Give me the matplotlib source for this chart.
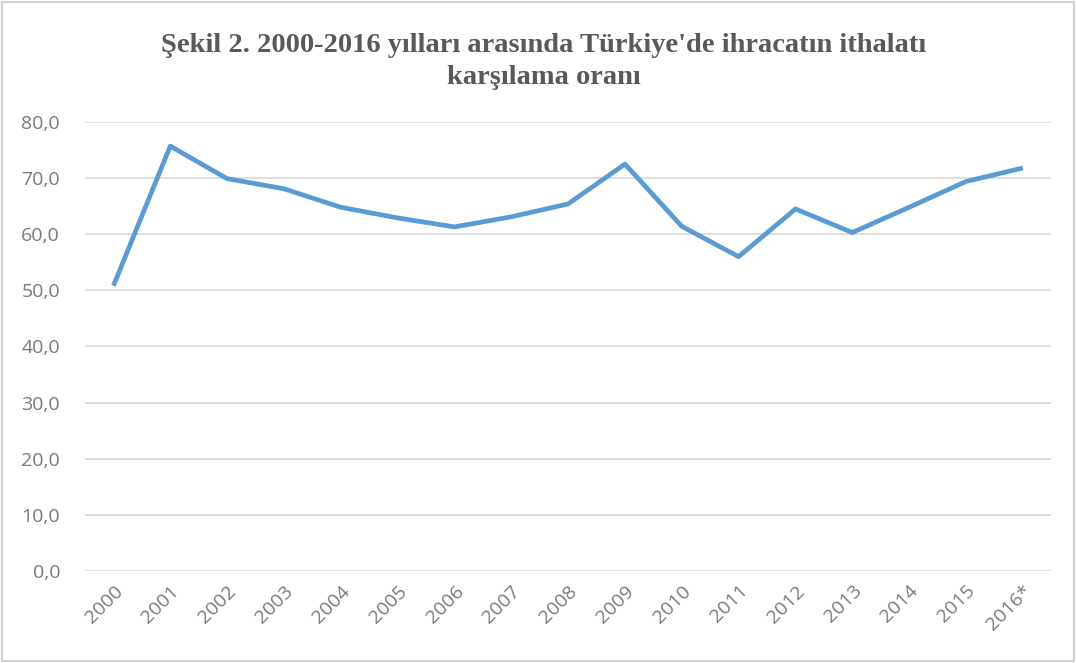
import matplotlib
matplotlib.use("Agg")
import matplotlib.pyplot as plt
import matplotlib.ticker as mtick
from matplotlib.patches import Rectangle

years = ["2000", "2001", "2002", "2003", "2004", "2005", "2006", "2007", "2008",
         "2009", "2010", "2011", "2012", "2013", "2014", "2015", "2016*"]
coverage = [50.8, 75.7, 69.9, 68.1, 64.8, 62.9, 61.3, 63.1, 65.4,
            72.5, 61.4, 56.0, 64.5, 60.3, 64.8, 69.4, 71.8]
y_ticks = [0, 10, 20, 30, 40, 50, 60, 70, 80]

LINE = "#5b9bd5"
GRID = "#d9d9d9"
TEXT = "#7a7a7a"

fig = plt.figure(figsize=(10.76, 6.63), dpi=100)
ax = fig.add_axes([0.079, 0.139, 0.898, 0.677])

x = range(len(years))
ax.plot(x, coverage, color=LINE, linewidth=3.4, solid_capstyle="butt", zorder=3)

ax.set_xlim(-0.5, len(years) - 0.5)
ax.set_ylim(0, 80)
ax.set_yticks(y_ticks)
ax.yaxis.set_major_formatter(mtick.FuncFormatter(lambda v, _: f"{v:.1f}".replace(".", ",")))
ax.set_xticks(list(x))
ax.set_xticklabels(years, rotation=45, ha="right", rotation_mode="anchor")

ax.grid(axis="y", color=GRID, linewidth=1.2)
ax.set_axisbelow(True)
for s in ax.spines.values():
    s.set_visible(False)
ax.tick_params(length=0, colors=TEXT, labelsize=14)
ax.tick_params(axis="y", pad=18)
ax.tick_params(axis="x", pad=8)
for lbl in ax.get_xticklabels() + ax.get_yticklabels():
    lbl.set_fontfamily("Open Sans")

fig.text(0.505, 0.907, "Şekil 2. 2000-2016 yılları arasında Türkiye'de ihracatın ithalatı\nkarşılama oranı",
         ha="center", va="center", fontsize=20.5, fontweight="bold",
         family="Liberation Serif", color="#595959", linespacing=1.35)

fig.patches.append(Rectangle((0.002, 0.003), 0.996, 0.994, transform=fig.transFigure,
                             fill=False, edgecolor="#d0d0d0", linewidth=1.5))

fig.savefig("out.png", dpi=100)
